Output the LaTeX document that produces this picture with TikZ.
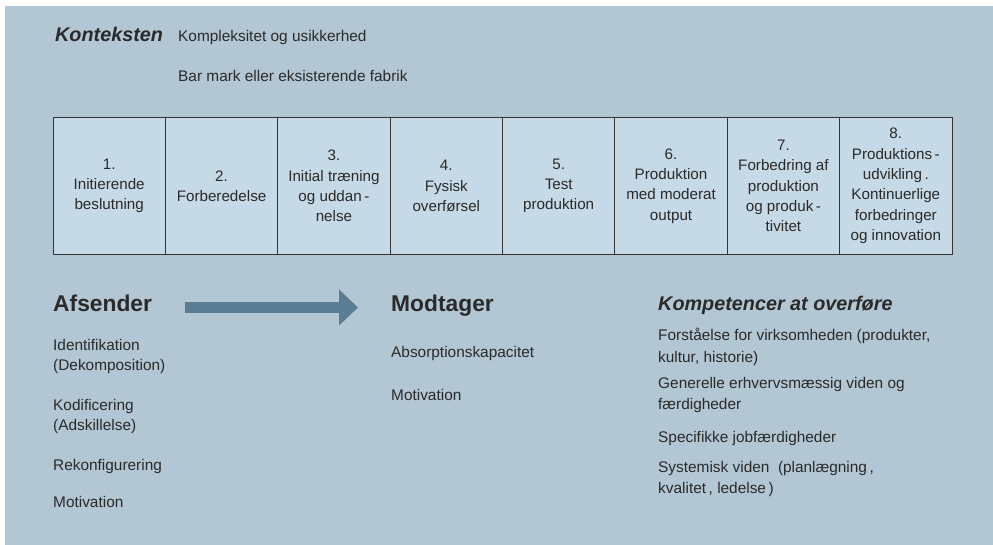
\documentclass[tikz,border=0pt]{standalone}
\usepackage{fontspec}
\setmainfont{Liberation Sans}
\usetikzlibrary{positioning, arrows.meta}

\definecolor{panel}{HTML}{B2C6D4}
\definecolor{cellfill}{HTML}{C6D9E6}
\definecolor{arrowblue}{HTML}{5A7D93}
\definecolor{ink}{HTML}{2A2A2A}

\begin{document}
\begin{tikzpicture}[x=1pt, y=-1pt,
  txt/.style={anchor=base west, inner sep=0pt, text=ink, align=left,
    font=\fontsize{15.4}{20}\selectfont},
  txtblock/.style={txt, anchor=north west},
  txtwide/.style={txtblock, font=\fontsize{15.4}{21.5}\selectfont},
  head/.style={anchor=base west, inner sep=0pt, text=ink, text height=17pt, text depth=5pt,
    font=\fontsize{22.8}{26}\selectfont\bfseries},
  headit/.style={anchor=base west, inner sep=0pt, text=ink,
    font=\fontsize{19.8}{24}\selectfont\bfseries\itshape},
  cell/.style={draw=black!80, line width=0.8pt, fill=cellfill, text=ink, align=center,
    minimum width=112.4pt, minimum height=137pt, inner sep=2pt,
    font=\fontsize{15.2}{20.3}\selectfont}]

\useasboundingbox (0,0) rectangle (993,545);
\fill[panel] (5,6) rectangle (993,545);

% context
\node[headit] (kontekst) at (55,42) {Konteksten};
\node[txt] (kompleks) at (178,42) {Kompleksitet og usikkerhed};
\node[txt] (barmark) at (178,82) {Bar mark eller eksisterende fabrik};

% the eight phases
\foreach \n/\txt in {1/{1.\\Initierende\\beslutning},
                     2/{2.\\Forberedelse},
                     3/{3.\\Initial træning\\og uddan\,-\\nelse},
                     4/{4.\\Fysisk\\overførsel},
                     5/{5.\\Test\\produktion},
                     6/{6.\\Produktion\\med moderat\\output},
                     7/{7.\\Forbedring af\\produktion\\og produk\,-\\tivitet},
                     8/{8.\\Produktions\,-\\udvikling\,.\\Kontinuerlige\\forbedringer\\og innovation}}
  \node[cell] (fase\n) at ({53+112.375*(\n-0.5)},186) {\txt};

% sender and receiver
\node[head] (afsender) at (53,312) {Afsender};
\node[head] (modtager) at (391,312) {Modtager};
\draw[arrowblue, line width=11pt, -{Triangle[length=19pt,width=35pt]},
  shorten <=32.5pt, shorten >=33pt] ([yshift=-1.5pt]afsender.east) -- ([yshift=-1.5pt]modtager.west);

\node[txtblock] (identifik) at (53,339) {Identifikation\\(Dekomposition)};
\node[txtblock] (kodifik) at (53,399) {Kodificering\\(Adskillelse)};
\node[txt] (rekonfig) at (53,470) {Rekonfigurering};
\node[txt] (motivafs) at (53,507) {Motivation};

\node[txt] (absorp) at (391,357) {Absorptionskapacitet};
\node[txt] (motivmod) at (391,400) {Motivation};

% competences
\node[headit] (kompetence) at (658,310) {Kompetencer at overføre};
\node[txtwide] (forstaa) at (658,328) {Forståelse for virksomheden (produkter,\\kultur, historie)};
\node[txtwide] (generel) at (658,377) {Generelle erhvervsmæssig viden og\\færdigheder};
\node[txt] (specif) at (658,442) {Specifikke jobfærdigheder};
\node[txtwide] (system) at (658,461) {Systemisk viden\ \ (planlægning\,,\\kvalitet\,, ledelse\,)};

\end{tikzpicture}
\end{document}
